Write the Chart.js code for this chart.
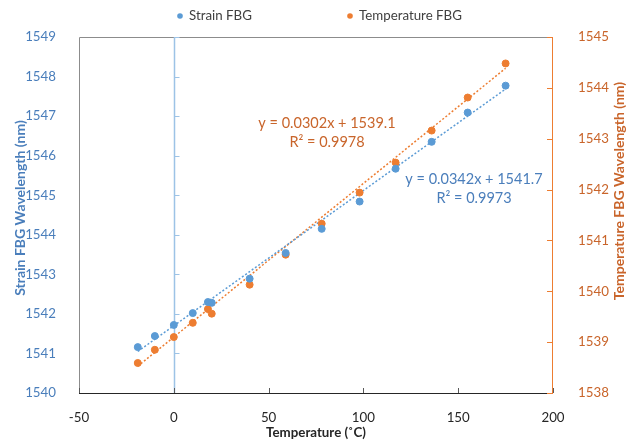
<!DOCTYPE html>
<html>
<head>
<meta charset="utf-8">
<script src="https://cdn.jsdelivr.net/npm/chart.js@4"></script>
<style>
  html, body { margin: 0; padding: 0; background: #fff; }
  #wrap { width: 635px; height: 441px; }
</style>
</head>
<body>
<div id="wrap"><canvas id="chart"></canvas></div>
<script>
// values
var temps = [-19, -10, 0, 10, 18, 20, 40, 59, 78, 98, 117, 136, 155, 175]
var strainWl = [1541.16, 1541.44, 1541.72, 1542.02, 1542.30, 1542.28, 1542.89, 1543.54, 1544.15, 1544.84, 1545.67, 1546.35, 1547.09, 1547.77]
var tempWl = [1538.59, 1538.85, 1539.10, 1539.38, 1539.65, 1539.56, 1540.13, 1540.72, 1541.33, 1541.94, 1542.53, 1543.16, 1543.81, 1544.48]
var seriesNames = ['Strain FBG', 'Temperature FBG']
var axisTitles = ['Strain FBG Wavelength (nm)', 'Temperature FBG Wavelength (nm)']
// trendline coefficients as printed on the chart: [slope, intercept]
var strainFit = [0.0342, 1541.7]
var tempFit = [0.0302, 1539.1]
var fitLabels = [['y = 0.0342x + 1541.7', 'R² = 0.9973'], ['y = 0.0302x + 1539.1', 'R² = 0.9978']]

var blue = '#5B9BD5'
var orange = '#ED7D31'
var blueText = '#4A7EBB'
var orangeText = '#C9652B'
var font = 'Lato'

function pts(xs, ys) {
  return xs.map(function (x, i) { return { x: x, y: ys[i] } })
}
function fitLine(fit) {
  var x0 = Math.min.apply(null, temps), x1 = Math.max.apply(null, temps)
  return [{ x: x0, y: fit[0] * x0 + fit[1] }, { x: x1, y: fit[0] * x1 + fit[1] }]
}
function plain(v) { return String(v) }

var extras = {
  id: 'extras',
  beforeDatasetsDraw: function (chart) {
    var c = chart.ctx, a = chart.chartArea
    var x = chart.scales.x, y = chart.scales.y, y2 = chart.scales.y2
    c.save()
    // frame
    c.strokeStyle = '#8c8c8c'
    c.lineWidth = 1
    c.beginPath()
    c.moveTo(a.left + 0.5, a.bottom)
    c.lineTo(a.left + 0.5, a.top + 0.5)
    c.lineTo(a.right, a.top + 0.5)
    c.stroke()
    // primary vertical axis crossing at x = 0
    var x0 = Math.round(x.getPixelForValue(0)) + 0.5
    c.strokeStyle = '#9DC3E6'
    c.lineWidth = 1.5
    c.beginPath()
    c.moveTo(x0, a.top)
    c.lineTo(x0, a.bottom)
    c.stroke()
    c.lineWidth = 1
    y.ticks.forEach(function (t) {
      var py = Math.round(y.getPixelForValue(t.value)) + 0.5
      c.beginPath(); c.moveTo(x0, py); c.lineTo(x0 + 5, py); c.stroke()
    })
    // bottom axis
    c.strokeStyle = '#262626'
    c.beginPath()
    c.moveTo(a.left, a.bottom + 0.5)
    c.lineTo(a.right, a.bottom + 0.5)
    c.stroke()
    c.strokeStyle = '#595959'
    x.ticks.forEach(function (t) {
      var px = Math.round(x.getPixelForValue(t.value)) + 0.5
      c.beginPath(); c.moveTo(px, a.bottom); c.lineTo(px, a.bottom - 5); c.stroke()
    })
    // secondary axis
    c.strokeStyle = orange
    c.beginPath()
    c.moveTo(a.right - 0.5, a.top)
    c.lineTo(a.right - 0.5, a.bottom)
    c.stroke()
    y2.ticks.forEach(function (t) {
      var py = Math.round(y2.getPixelForValue(t.value)) + 0.5
      c.beginPath(); c.moveTo(a.right, py); c.lineTo(a.right - 6, py); c.stroke()
    })
    c.restore()
  },
  afterDatasetsDraw: function (chart) {
    var c = chart.ctx, a = chart.chartArea
    c.save()
    c.font = '14.5px "' + font + '"'
    c.textAlign = 'center'
    c.textBaseline = 'middle'
    c.fillStyle = orangeText
    c.fillText(fitLabels[1][0], a.left + 248, 123)
    c.fillText(fitLabels[1][1], a.left + 248, 142)
    c.fillStyle = blueText
    c.fillText(fitLabels[0][0], a.left + 395, 179)
    c.fillText(fitLabels[0][1], a.left + 395, 198)

    // vertical axis titles
    c.font = 'bold 14px "' + font + '"'
    c.fillStyle = blueText
    c.save(); c.translate(20, 208); c.rotate(-Math.PI / 2); c.fillText(axisTitles[0], 0, 0); c.restore()
    c.fillStyle = orangeText
    c.save(); c.translate(619, 191); c.rotate(-Math.PI / 2); c.fillText(axisTitles[1], 0, 0); c.restore()

    // legend
    c.font = '13.3px "' + font + '"'
    c.textAlign = 'left'
    var lx = [180, 350]
    for (var i = 0; i < 2; i++) {
      var ds = chart.data.datasets[i]
      c.fillStyle = ds.backgroundColor
      c.beginPath(); c.arc(lx[i], 16, 2.8, 0, Math.PI * 2); c.fill()
      c.fillStyle = '#404040'
      c.fillText(ds.label, lx[i] + 9, 16)
    }
    c.restore()
  }
}

new Chart(document.getElementById('chart'), {
  type: 'scatter',
  data: {
    datasets: [
      {
        label: seriesNames[0],
        data: pts(temps, strainWl),
        yAxisID: 'y',
        backgroundColor: blue,
        borderColor: blue,
        pointRadius: 3.5,
        order: 1,
      },
      {
        label: seriesNames[1],
        data: pts(temps, tempWl),
        yAxisID: 'y2',
        backgroundColor: orange,
        borderColor: orange,
        pointRadius: 3.5,
        order: 1,
      },
      {
        type: 'line',
        label: 'fit1',
        data: fitLine(strainFit),
        yAxisID: 'y',
        borderColor: blue,
        borderWidth: 1.5,
        borderDash: [2, 2],
        pointRadius: 0,
        order: 2,
      },
      {
        type: 'line',
        label: 'fit2',
        data: fitLine(tempFit),
        yAxisID: 'y2',
        borderColor: orange,
        borderWidth: 1.5,
        borderDash: [2, 2],
        pointRadius: 0,
        order: 2,
      },
    ],
  },
  options: {
    responsive: true,
    maintainAspectRatio: false,
    animation: false,
    layout: { padding: { top: 37, left: 0, right: 0, bottom: 0 } },
    plugins: {
      tooltip: { enabled: false },
      legend: { display: false },
    },
    scales: {
      x: {
        type: 'linear',
        min: -50,
        max: 200,
        ticks: { stepSize: 50, callback: plain, color: '#262626', font: { family: font, size: 13.3 }, padding: 9 },
        grid: { display: false },
        border: { display: false },
        title: { display: true, text: 'Temperature (˚C)', color: '#262626', font: { family: font, size: 13.3, weight: 'bold' }, padding: 0 },
        afterFit: function (s) { s.height = 48 },
      },
      y: {
        position: 'left',
        min: 1540,
        max: 1549,
        ticks: { stepSize: 1, callback: plain, color: blueText, font: { family: font, size: 13.3 }, padding: 15 },
        grid: { display: false },
        border: { display: false },
        afterFit: function (s) { s.width = 79 },
      },
      y2: {
        position: 'right',
        min: 1538,
        max: 1545,
        ticks: { stepSize: 1, callback: plain, color: orangeText, font: { family: font, size: 13.3 }, padding: 17 },
        grid: { display: false },
        border: { display: false },
        afterFit: function (s) { s.width = 82 },
      },
    },
  },
  plugins: [extras],
})
</script>
</body>
</html>
